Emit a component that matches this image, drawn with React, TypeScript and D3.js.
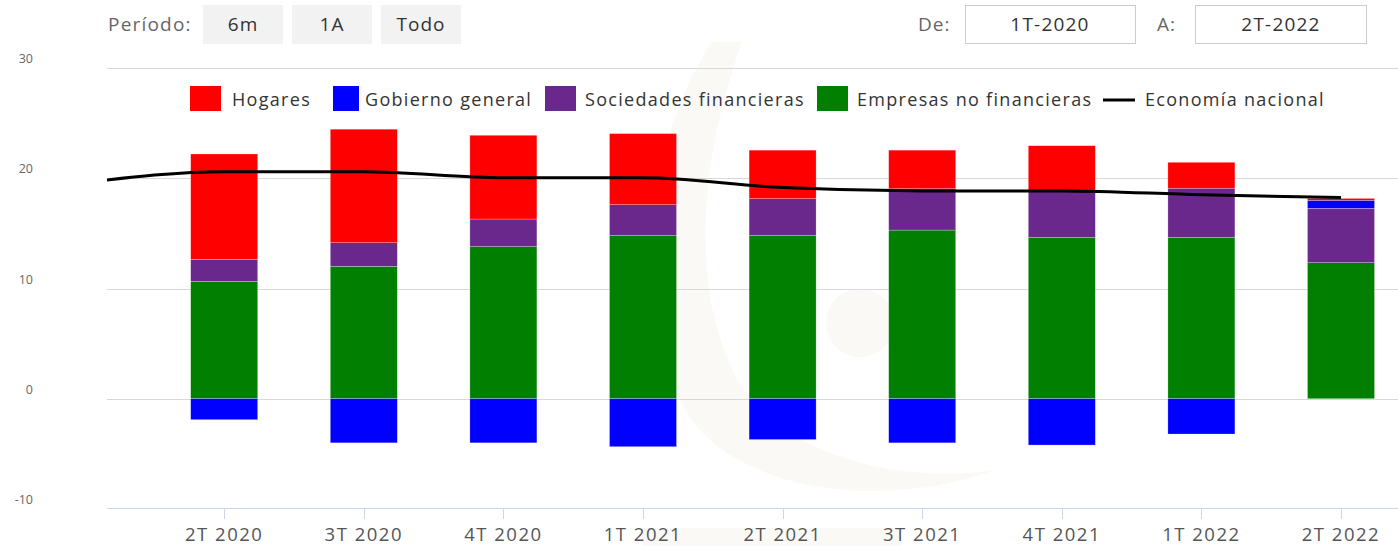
import React from "react";
import * as d3 from "d3";

const categories = ["1T 2020", "2T 2020", "3T 2020", "4T 2020", "1T 2021", "2T 2021", "3T 2021", "4T 2021", "1T 2022", "2T 2022"];
const hogares = [null, 9.55, 10.3, 7.6, 6.45, 4.4, 3.5, 4.05, 2.35, 0.17];
const gobierno = [null, -1.9, -4.0, -4.0, -4.35, -3.7, -4.0, -4.2, -3.2, 0.73];
const sociedades = [null, 2.0, 2.15, 2.5, 2.8, 3.35, 3.75, 4.25, 4.45, 4.93];
const empresas = [null, 10.65, 12.0, 13.8, 14.8, 14.8, 15.3, 14.65, 14.65, 12.34];
const nacional = [19.6, 20.6, 20.6, 20.05, 20.05, 19.15, 18.85, 18.85, 18.5, 18.25];
const yTicks = [-10, 0, 10, 20, 30];
const periodButtons = ["6m", "1A", "Todo"];
const fromLabel = "1T-2020";
const toLabel = "2T-2022";

const seriesDefs = [
  { key: "hogares", name: "Hogares", color: "#ff0000", values: hogares },
  { key: "gobierno", name: "Gobierno general", color: "#0000ff", values: gobierno },
  { key: "sociedades", name: "Sociedades financieras", color: "#6a288c", values: sociedades },
  { key: "empresas", name: "Empresas no financieras", color: "#007f00", values: empresas },
];

const W = 1398;
const H = 546;
const plotLeft = 107;
const plotRight = 1398;
const FONT = "'Open Sans', 'DejaVu Sans', sans-serif";

export default function App() {
  const y = d3.scaleLinear().domain([-10, 30]).range([509, 68]);
  const x = d3
    .scaleBand<string>()
    .domain(categories)
    .range([14.8, 14.8 + 139.6 * categories.length])
    .paddingInner(0)
    .paddingOuter(0);
  const bw = x.bandwidth() * 0.48;
  const cx = (c: string) => (x(c) as number) + x.bandwidth() / 2;

  const rows = categories.map((c, i) => ({
    cat: c,
    empresas: empresas[i] ?? 0,
    sociedades: sociedades[i] ?? 0,
    gobierno: gobierno[i] ?? 0,
    hogares: hogares[i] ?? 0,
    has: empresas[i] != null,
  }));
  const stack = d3
    .stack<any>()
    .keys(["empresas", "sociedades", "gobierno", "hogares"])
    .offset(d3.stackOffsetDiverging);
  const stacked = stack(rows);
  const colorOf: Record<string, string> = {};
  seriesDefs.forEach((s) => (colorOf[s.key] = s.color));

  const line = d3
    .line<number>()
    .x((_, i) => cx(categories[i]))
    .y((d) => y(d))
    .curve(d3.curveMonotoneX);

  const legendItems = [
    { name: seriesDefs[0].name, color: seriesDefs[0].color, x: 190, w: 31, tx: 232 },
    { name: seriesDefs[1].name, color: seriesDefs[1].color, x: 333, w: 26, tx: 365 },
    { name: seriesDefs[2].name, color: seriesDefs[2].color, x: 545, w: 31, tx: 585 },
    { name: seriesDefs[3].name, color: seriesDefs[3].color, x: 817, w: 31, tx: 857 },
  ];
  const LS = 1.3;

  return (
    <div style={{ position: "fixed", left: 0, top: 0 }}>
      <svg width={W} height={H} style={{ display: "block", background: "#fff" }} fontFamily={FONT}>
        <defs>
          <clipPath id="plotClip">
            <rect x={plotLeft} y={40} width={plotRight - plotLeft} height={480} />
          </clipPath>
        </defs>

        {/* faint watermark */}
        <g fill="#fbf9f5">
          <path d="M 712 42 C 640 150, 628 330, 695 425 C 760 500, 900 505, 995 470 C 900 485, 775 455, 735 375 C 690 285, 700 160, 742 42 Z" />
          <circle cx={860} cy={323} r={34} />
          <rect x={642} y={528} width={260} height={18} />
        </g>

        {/* top controls */}
        <text x={108} y={31} fontSize={19} fill="#666" letterSpacing={1.2}>Período:</text>
        {periodButtons.map((b, i) => (
          <g key={b}>
            <rect x={203 + i * 89} y={5} width={80} height={39} fill="#f2f2f2" />
            <text x={243 + i * 89} y={31} fontSize={19} fill="#333" textAnchor="middle" letterSpacing={1}>{b}</text>
          </g>
        ))}
        <text x={918} y={31} fontSize={19} fill="#666" letterSpacing={1}>De:</text>
        <rect x={965.5} y={5.5} width={170} height={38} fill="#fff" stroke="#ccc" />
        <text x={1050} y={31} fontSize={19} fill="#333" textAnchor="middle" letterSpacing={1.2}>{fromLabel}</text>
        <text x={1157} y={31} fontSize={19} fill="#666" letterSpacing={1}>A:</text>
        <rect x={1195.5} y={5.5} width={171} height={38} fill="#fff" stroke="#ccc" />
        <text x={1281} y={31} fontSize={19} fill="#333" textAnchor="middle" letterSpacing={1.2}>{toLabel}</text>

        {/* gridlines + y labels */}
        {yTicks.map((t) => (
          <g key={t}>
            {t !== -10 && (
              <line x1={plotLeft} x2={plotRight} y1={Math.round(y(t)) + 0.5} y2={Math.round(y(t)) + 0.5} stroke="#d8d8d8" />
            )}
            <text x={33} y={y(t) - 5} fontSize={12.5} fill="#666" textAnchor="end">{t}</text>
          </g>
        ))}
        {/* x axis */}
        <line x1={plotLeft} x2={plotRight} y1={Math.round(y(-10)) - 0.5} y2={Math.round(y(-10)) - 0.5} stroke="#ccd6eb" />
        {categories.map((c) => {
          const px = cx(c);
          if (px < plotLeft || px > plotRight) return null;
          return (
            <g key={c}>
              <line x1={Math.round(px) + 0.5} x2={Math.round(px) + 0.5} y1={y(-10)} y2={y(-10) + 10} stroke="#ccd6eb" />
              <text x={px} y={541} fontSize={18.5} fill="#555" textAnchor="middle" letterSpacing={1.5}>{c}</text>
            </g>
          );
        })}

        {/* legend */}
        {legendItems.map((l) => (
          <g key={l.name}>
            <rect x={l.x} y={86} width={l.w} height={25} fill={l.color} />
            <text x={l.tx} y={106} fontSize={18} fill="#333" letterSpacing={LS}>{l.name}</text>
          </g>
        ))}
        <line x1={1103} x2={1135} y1={100} y2={100} stroke="#000" strokeWidth={3} />
        <text x={1145} y={106} fontSize={18} fill="#333" letterSpacing={LS}>Economía nacional</text>

        {/* bars */}
        <g clipPath="url(#plotClip)">
          {stacked.map((layer) => (
            <g key={layer.key} fill={colorOf[layer.key]}>
              {layer.map((d, i) => {
                if (!rows[i].has) return null;
                const y0 = y(d[0]);
                const y1 = y(d[1]);
                const h = Math.abs(y0 - y1);
                if (h < 0.01) return null;
                return (
                  <rect
                    key={i}
                    x={cx(categories[i]) - bw / 2}
                    y={Math.min(y0, y1)}
                    width={bw}
                    height={h}
                    stroke="#fff"
                    strokeOpacity={0.5}
                    strokeWidth={0.5}
                  />
                );
              })}
            </g>
          ))}
          <path d={line(nacional) as string} fill="none" stroke="#000" strokeWidth={3} />
        </g>
      </svg>
    </div>
  );
}
